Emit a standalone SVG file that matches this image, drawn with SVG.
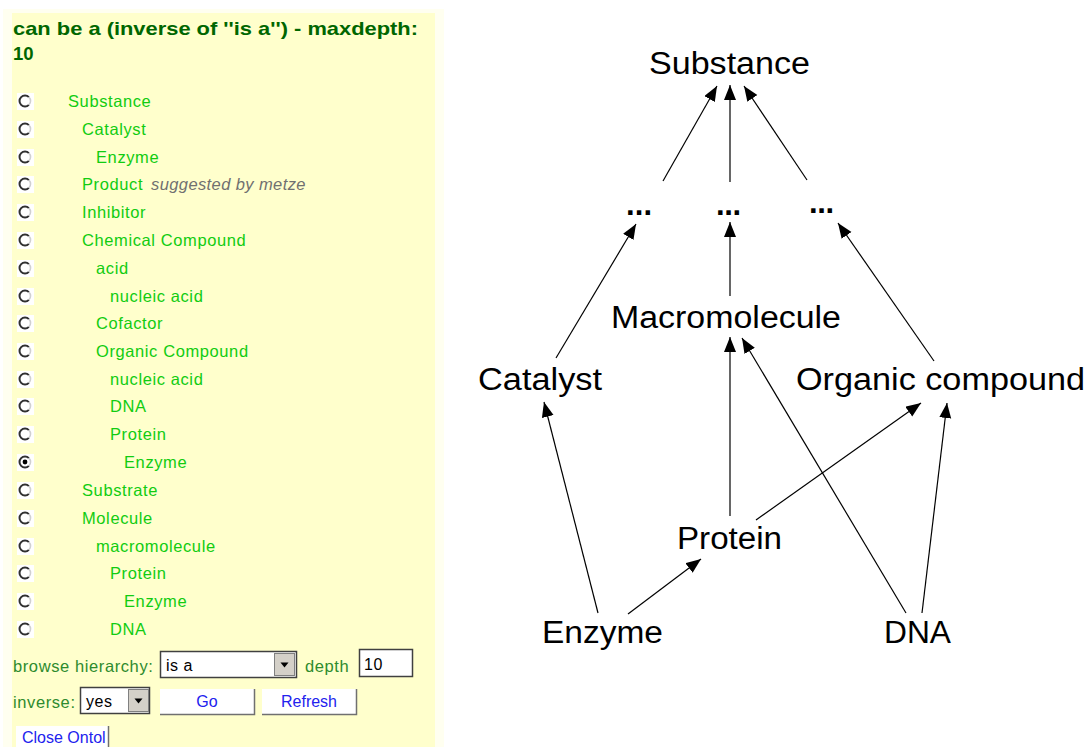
<svg xmlns="http://www.w3.org/2000/svg" xmlns:xlink="http://www.w3.org/1999/xlink" width="1088" height="747" viewBox="0 0 1088 747">
  <style>
    .title { font-family: "Liberation Sans", Arial, sans-serif; font-weight: bold; font-size: 18.5px; fill: #006600; }
    .item { font-family: "Liberation Sans", Arial, sans-serif; font-size: 16.5px; fill: #11cc11; letter-spacing: 0.6px; }
    .note { font-family: "Liberation Sans", Arial, sans-serif; font-size: 16.5px; font-style: italic; fill: #707070; letter-spacing: 0.4px; }
    .label { font-family: "Liberation Sans", Arial, sans-serif; font-size: 16.5px; fill: #2e8b2e; letter-spacing: 0.6px; }
    .ctl { font-family: "Liberation Sans", Arial, sans-serif; font-size: 16px; fill: #000000; letter-spacing: 0.5px; }
    .btn { font-family: "Liberation Sans", Arial, sans-serif; font-size: 16px; fill: #2222ee; }
    .node { font-family: "Liberation Sans", Arial, sans-serif; font-size: 31px; fill: #000000; }
    .dots { font-family: "Liberation Sans", Arial, sans-serif; font-size: 31px; font-weight: bold; fill: #000000; }
    .edge { stroke: #000000; stroke-width: 1.2; fill: none; marker-end: url(#head); }
  </style>
  <defs>
    <marker id="head" markerUnits="userSpaceOnUse" markerWidth="16" markerHeight="13" refX="15" refY="6" orient="auto">
      <path d="M0,0 L15,6 L0,12 z" fill="#000000"/>
    </marker>
    <g id="radio">
      <rect x="-8" y="-8" width="17" height="17" fill="#ffffff"/>
      <path d="M3.9,-3.9 A5.5,5.5 0 1 0 3.9,3.9" fill="none" stroke="#303030" stroke-width="2"/>
      <path d="M3.9,-3.9 A5.5,5.5 0 0 1 3.9,3.9" fill="none" stroke="#d0d0d0" stroke-width="1.6"/>
    </g>
    <g id="arrowbtn">
      <rect x="0" y="0" width="20" height="22" fill="#d4d0c8" stroke="#808080" stroke-width="1"/>
      <path d="M6,9 L14,9 L10,14 z" fill="#000000"/>
    </g>
  </defs>

  <rect width="1088" height="747" fill="#ffffff"/>

  <!-- ontology browser panel -->
  <g id="panel">
    <rect x="3" y="9" width="441" height="738" fill="#fffff0"/>
    <rect x="12" y="13" width="423" height="734" fill="#ffffcc"/>
    <text class="title" x="13" y="35" textLength="405" lengthAdjust="spacingAndGlyphs">can be a (inverse of ''is a'') - maxdepth:</text>
    <text class="title" x="13" y="60">10</text>
  </g>

  <!-- hierarchy rows -->
  <g id="tree">
    <use xlink:href="#radio" x="25" y="101"/>
    <use xlink:href="#radio" x="25" y="129"/>
    <use xlink:href="#radio" x="25" y="157"/>
    <use xlink:href="#radio" x="25" y="184"/>
    <use xlink:href="#radio" x="25" y="212"/>
    <use xlink:href="#radio" x="25" y="240"/>
    <use xlink:href="#radio" x="25" y="268"/>
    <use xlink:href="#radio" x="25" y="296"/>
    <use xlink:href="#radio" x="25" y="323"/>
    <use xlink:href="#radio" x="25" y="351"/>
    <use xlink:href="#radio" x="25" y="379"/>
    <use xlink:href="#radio" x="25" y="406"/>
    <use xlink:href="#radio" x="25" y="434"/>
    <use xlink:href="#radio" x="25" y="462"/>
    <circle cx="25" cy="462" r="2.4" fill="#000000"/>
    <use xlink:href="#radio" x="25" y="490"/>
    <use xlink:href="#radio" x="25" y="518"/>
    <use xlink:href="#radio" x="25" y="546"/>
    <use xlink:href="#radio" x="25" y="573"/>
    <use xlink:href="#radio" x="25" y="601"/>
    <use xlink:href="#radio" x="25" y="629"/>

    <text class="item" x="68" y="107">Substance</text>
    <text class="item" x="82" y="135">Catalyst</text>
    <text class="item" x="96" y="163">Enzyme</text>
    <text class="item" x="82" y="190">Product</text>
    <text class="note" x="151" y="190">suggested by metze</text>
    <text class="item" x="82" y="218">Inhibitor</text>
    <text class="item" x="82" y="246">Chemical Compound</text>
    <text class="item" x="96" y="274">acid</text>
    <text class="item" x="110" y="302">nucleic acid</text>
    <text class="item" x="96" y="329">Cofactor</text>
    <text class="item" x="96" y="357">Organic Compound</text>
    <text class="item" x="110" y="385">nucleic acid</text>
    <text class="item" x="110" y="412">DNA</text>
    <text class="item" x="110" y="440">Protein</text>
    <text class="item" x="124" y="468">Enzyme</text>
    <text class="item" x="82" y="496">Substrate</text>
    <text class="item" x="82" y="524">Molecule</text>
    <text class="item" x="96" y="552">macromolecule</text>
    <text class="item" x="110" y="579">Protein</text>
    <text class="item" x="124" y="607">Enzyme</text>
    <text class="item" x="110" y="635">DNA</text>
  </g>

  <!-- form controls -->
  <g id="controls">
    <text class="label" x="13" y="672">browse hierarchy:</text>
    <rect x="160.5" y="651.5" width="136" height="26" fill="#ffffff" stroke="#404040" stroke-width="1.5"/>
    <text class="ctl" x="166" y="671">is a</text>
    <use xlink:href="#arrowbtn" x="274.5" y="653.5"/>
    <text class="label" x="305" y="672">depth</text>
    <rect x="359.5" y="649.5" width="53" height="27" fill="#ffffff" stroke="#404040" stroke-width="1.5"/>
    <text class="ctl" x="364" y="670">10</text>

    <text class="label" x="13" y="708">inverse:</text>
    <rect x="80.5" y="687.5" width="69" height="26" fill="#ffffff" stroke="#404040" stroke-width="1.5"/>
    <text class="ctl" x="86" y="707">yes</text>
    <use xlink:href="#arrowbtn" x="128.5" y="689.5"/>

    <g id="btn-go">
      <rect x="160" y="689" width="95" height="25" fill="#ffffff"/>
      <path d="M254.5,689 V714.5 H160" fill="none" stroke="#707070" stroke-width="1.5"/>
      <text class="btn" x="207" y="707" text-anchor="middle">Go</text>
    </g>
    <g id="btn-refresh">
      <rect x="262" y="689" width="95" height="25" fill="#ffffff"/>
      <path d="M356.5,689 V714.5 H262" fill="none" stroke="#707070" stroke-width="1.5"/>
      <text class="btn" x="309" y="707" text-anchor="middle">Refresh</text>
    </g>
    <g id="btn-close">
      <rect x="16" y="726" width="93" height="21" fill="#ffffff"/>
      <path d="M108.5,726 V747" fill="none" stroke="#707070" stroke-width="1.5"/>
      <text class="btn" x="22" y="743">Close Ontol</text>
    </g>
  </g>

  <!-- graph connectors: child points at parent -->
  <g id="connectors">
    <line class="edge" x1="663" y1="181" x2="717" y2="86"/>
    <line class="edge" x1="730" y1="182" x2="730" y2="85"/>
    <line class="edge" x1="807" y1="180" x2="744" y2="86"/>
    <line class="edge" x1="556" y1="358" x2="636" y2="224"/>
    <line class="edge" x1="730" y1="296" x2="730" y2="222"/>
    <line class="edge" x1="934" y1="361" x2="838" y2="223"/>
    <line class="edge" x1="598" y1="613" x2="544" y2="402"/>
    <line class="edge" x1="628" y1="614" x2="701" y2="559"/>
    <line class="edge" x1="730" y1="516" x2="730" y2="337"/>
    <line class="edge" x1="756" y1="520" x2="921" y2="403"/>
    <line class="edge" x1="906" y1="613" x2="742" y2="338"/>
    <line class="edge" x1="922" y1="613" x2="947" y2="403"/>
  </g>

  <!-- graph nodes -->
  <g id="node-substance"><text class="node" x="649" y="74" textLength="161" lengthAdjust="spacingAndGlyphs">Substance</text></g>
  <g id="node-more-left"><text class="dots" x="626" y="215" textLength="26" lengthAdjust="spacing">...</text></g>
  <g id="node-more-mid"><text class="dots" x="716" y="215" textLength="25" lengthAdjust="spacing">...</text></g>
  <g id="node-more-right"><text class="dots" x="809" y="213" textLength="25" lengthAdjust="spacing">...</text></g>
  <g id="node-macromolecule"><text class="node" x="611" y="328" textLength="230" lengthAdjust="spacingAndGlyphs">Macromolecule</text></g>
  <g id="node-catalyst"><text class="node" x="478" y="390" textLength="124" lengthAdjust="spacingAndGlyphs">Catalyst</text></g>
  <g id="node-organic"><text class="node" x="796" y="390" textLength="289" lengthAdjust="spacingAndGlyphs">Organic compound</text></g>
  <g id="node-protein"><text class="node" x="677" y="549" textLength="105" lengthAdjust="spacingAndGlyphs">Protein</text></g>
  <g id="node-enzyme"><text class="node" x="542" y="643" textLength="121" lengthAdjust="spacingAndGlyphs">Enzyme</text></g>
  <g id="node-dna"><text class="node" x="884" y="643" textLength="67" lengthAdjust="spacingAndGlyphs">DNA</text></g>
</svg>
